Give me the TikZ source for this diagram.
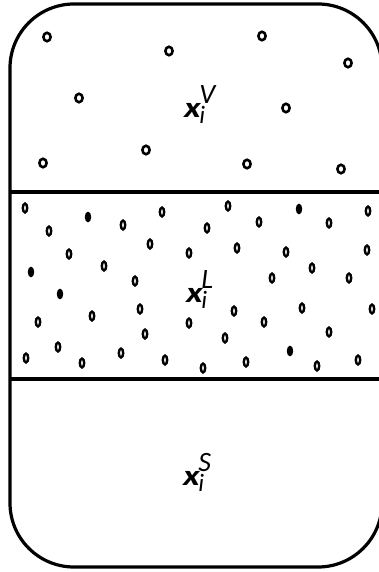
\documentclass[tikz,border=0pt]{standalone}
\usepackage{fontspec}
\setmainfont{Carlito}
\begin{document}
\begin{tikzpicture}[x=1pt,y=-1pt,
  wall/.style={line width=3.2pt},
  vapdot/.style={line width=2.6pt},
  liqdot/.style={line width=2.4pt},
  phase/.style={anchor=base west,inner sep=0pt,font=\fontsize{29}{32}\selectfont}]
\clip (0,0) rectangle (379,572);
\draw[wall,rounded corners=64pt] (10,4) rectangle (382,567);
\draw[wall] (10,192) -- (382,192);
\draw[wall] (10,379) -- (382,379);
% vapour
\foreach \p in {(47,37),(169,51),(262,36),(348,63),(79,98),(286,108),
  (146,150),(43,163),(247,164),(341,169)}
  \draw[vapdot] \p ellipse (3.6 and 4.2);
% liquid
\foreach \p in {(25,208),(49,231),(123,225),(162,212),(228,206),(207,228),
  (259,222),(329,223),(368,211),(69,254),(150,244),(189,253),(237,248),
  (286,252),(367,250),(104,266),(135,281),(272,278),(312,268),(349,278),
  (140,309),(234,311),(302,308),(372,309),(38,322),(92,316),(189,323),
  (264,322),(145,334),(225,338),(329,332),(58,347),(26,358),(82,363),
  (121,353),(165,360),(203,368),(246,362),(317,366),(358,360)}
  \draw[liqdot] \p ellipse (2.2 and 4.4);
\foreach \p in {(88,217),(299,209),(31,272),(60,294),(290,351)}
  \fill \p ellipse (3.2 and 5.4);
\node[phase] (vap) at (184,118) {\scalebox{1.25}[1]{\bfseries\itshape x}\kern-1.5pt\rlap{\raisebox{14pt}{\fontsize{28}{28}\selectfont\itshape V}}\raisebox{-6pt}{\fontsize{25}{25}\selectfont\itshape i}};
\node[phase] (liq) at (186,302) {\scalebox{1.25}[1]{\bfseries\itshape x}\kern-1.5pt\rlap{\raisebox{14pt}{\fontsize{28}{28}\selectfont\itshape L}}\raisebox{-6pt}{\fontsize{25}{25}\selectfont\itshape i}};
\node[phase] (sol) at (183,485) {\scalebox{1.25}[1]{\bfseries\itshape x}\kern-1.5pt\rlap{\raisebox{14pt}{\fontsize{28}{28}\selectfont\itshape S}}\raisebox{-6pt}{\fontsize{25}{25}\selectfont\itshape i}};
\end{tikzpicture}
\end{document}
